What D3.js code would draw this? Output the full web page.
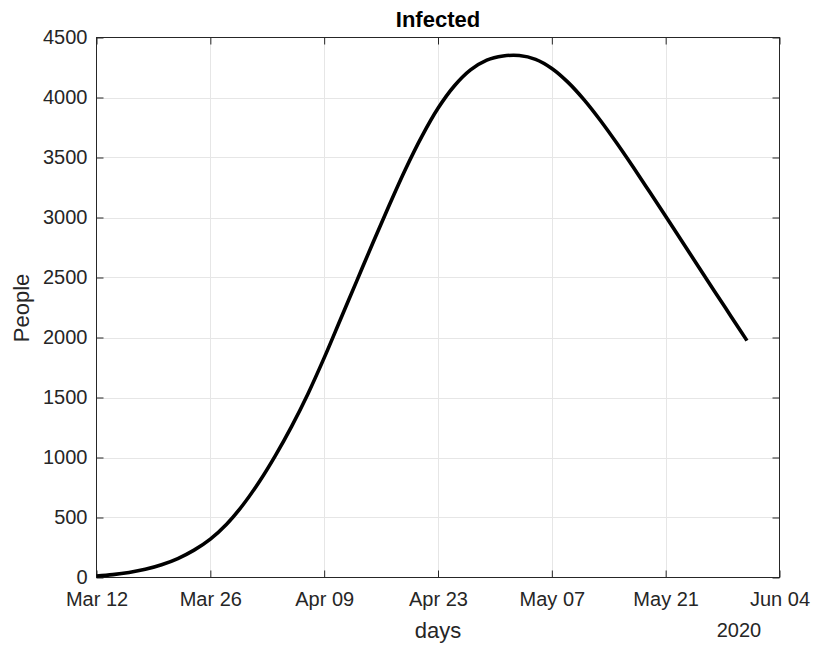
<!DOCTYPE html>
<html>
<head>
<meta charset="utf-8">
<script src="https://cdn.jsdelivr.net/npm/d3@7"></script>
<style>
  html, body { margin: 0; padding: 0; background: #fff; }
  svg { display: block; font-family: "Liberation Sans", Arial, Helvetica, sans-serif; }
</style>
</head>
<body>
<svg id="chart" width="816" height="648"></svg>
<script>
// ---- data ----
const startDate = "2020-03-12";
const dayOffsets = [0, 2, 4, 6, 8, 10, 12, 14, 16, 18, 20, 22, 24, 26, 28, 30, 32, 34, 36, 38, 40,
                    42, 44, 46, 48, 50, 52, 54, 56, 58, 60, 62, 64, 66, 68, 70, 72, 74, 76, 78, 80];
const infected = [12, 24, 42, 68, 106, 158, 228, 320, 444, 604, 796, 1016, 1260, 1530, 1830, 2150, 2470, 2790, 3102, 3402, 3674,
                  3910, 4096, 4230, 4312, 4346, 4350, 4318, 4242, 4126, 3978, 3806, 3618, 3420, 3216, 3010, 2802, 2594, 2386, 2180, 1974];
const xTickDates = ["2020-03-12", "2020-03-26", "2020-04-09", "2020-04-23", "2020-05-07", "2020-05-21", "2020-06-04"];
const xTickLabels = ["Mar 12", "Mar 26", "Apr 09", "Apr 23", "May 07", "May 21", "Jun 04"];
const yTicks = [0, 500, 1000, 1500, 2000, 2500, 3000, 3500, 4000, 4500];
const titleText = "Infected";
const xLabel = "days";
const yLabel = "People";
const yearLabel = "2020";

// ---- layout ----
const L = 96.5, R = 779.5, T = 37.5, B = 577.5;
const axisColor = "#262626";
const gridColor = "#e6e6e6";
const tickLen = 7;

const svg = d3.select("#chart");
const parse = d3.utcParse("%Y-%m-%d");
const t0 = parse(startDate);
const dates = dayOffsets.map(d => d3.utcDay.offset(t0, d));
const tickDates = xTickDates.map(parse);

const x = d3.scaleUtc().domain([tickDates[0], tickDates[tickDates.length - 1]]).range([L, R]);
const y = d3.scaleLinear().domain([0, 4500]).range([B, T]);

// grid
const g = svg.append("g");
g.selectAll(".gx").data(tickDates.slice(1, -1)).join("line")
  .attr("x1", d => Math.round(x(d)) + 0.5).attr("x2", d => Math.round(x(d)) + 0.5)
  .attr("y1", T).attr("y2", B).attr("stroke", gridColor).attr("stroke-width", 1);
g.selectAll(".gy").data(yTicks.slice(1, -1)).join("line")
  .attr("y1", d => Math.round(y(d)) + 0.5).attr("y2", d => Math.round(y(d)) + 0.5)
  .attr("x1", L).attr("x2", R).attr("stroke", gridColor).attr("stroke-width", 1);

// axes (inside ticks) using d3 axes
const fmt = (d, i) => xTickLabels[i];
const xAxisB = d3.axisBottom(x).tickValues(tickDates).tickSizeInner(-tickLen).tickSizeOuter(0).tickPadding(14).tickFormat(fmt);
const xAxisT = d3.axisTop(x).tickValues(tickDates).tickSizeInner(-tickLen).tickSizeOuter(0).tickFormat("");
const yAxisL = d3.axisLeft(y).tickValues(yTicks).tickSizeInner(-tickLen).tickSizeOuter(0).tickPadding(9).tickFormat(d3.format("d"));
const yAxisR = d3.axisRight(y).tickValues(yTicks).tickSizeInner(-tickLen).tickSizeOuter(0).tickFormat("");

function style(sel) {
  sel.select(".domain").remove();
  sel.selectAll(".tick line").attr("stroke", axisColor).attr("stroke-width", 1);
  sel.selectAll(".tick text").attr("fill", axisColor).attr("font-size", 20).attr("font-family", "Liberation Sans, Arial, sans-serif");
}
svg.append("g").attr("transform", `translate(0,${B})`).call(xAxisB).call(style);
svg.append("g").attr("transform", `translate(0,${T})`).call(xAxisT).call(style);
svg.append("g").attr("transform", `translate(${L},0)`).call(yAxisL).call(style);
svg.append("g").attr("transform", `translate(${R},0)`).call(yAxisR).call(style);

// box
svg.append("rect").attr("x", L).attr("y", T).attr("width", R - L).attr("height", B - T)
  .attr("fill", "none").attr("stroke", axisColor).attr("stroke-width", 1);

// line
const line = d3.line().x((d, i) => x(dates[i])).y(d => y(d)).curve(d3.curveCatmullRom.alpha(0.5));
svg.append("path").datum(infected).attr("d", line)
  .attr("fill", "none").attr("stroke", "#000").attr("stroke-width", 3.6)
  .attr("stroke-linejoin", "round");

// texts
svg.append("text").attr("x", 438).attr("y", 27).attr("text-anchor", "middle")
  .attr("font-size", 22).attr("font-weight", "bold").attr("fill", "#000").text(titleText);
svg.append("text").attr("x", 438).attr("y", 638).attr("text-anchor", "middle")
  .attr("font-size", 22).attr("fill", axisColor).text(xLabel);
svg.append("text").attr("x", 739).attr("y", 637).attr("text-anchor", "middle")
  .attr("font-size", 20).attr("fill", axisColor).text(yearLabel);
svg.append("text").attr("transform", "translate(29,308) rotate(-90)").attr("text-anchor", "middle")
  .attr("font-size", 22).attr("fill", axisColor).text(yLabel);
</script>
</body>
</html>
